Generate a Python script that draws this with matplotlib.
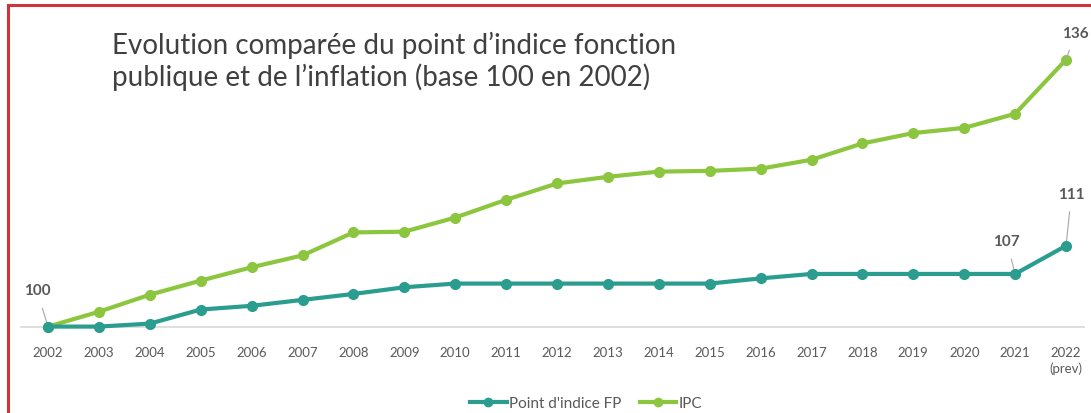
import matplotlib.pyplot as plt
from matplotlib.lines import Line2D

# données (base 100 en 2002)
annees = list(range(2002, 2023))
point_fp = [100.0, 100.0, 100.4, 102.3, 102.8, 103.6, 104.4, 105.3, 105.8, 105.8,
            105.8, 105.8, 105.8, 105.8, 106.5, 107.1, 107.1, 107.1, 107.1, 107.1, 110.9]
ipc = [100.0, 102.0, 104.3, 106.2, 108.0, 109.6, 112.7, 112.8, 114.7, 117.1,
       119.3, 120.2, 120.9, 121.0, 121.3, 122.5, 124.7, 126.1, 126.8, 128.7, 136.0]
etiquettes = [str(a) for a in annees[:-1]] + ["2022\n(prev)"]

plt.rcParams['font.family'] = ['Lato', 'DejaVu Sans']

c_fp = '#2a9d8f'
c_ipc = '#8cc63f'
gris = '#595959'

W, H = 1091, 414
fig = plt.figure(figsize=(W / 100, H / 100), dpi=100)
# axes placés en pixels: x 20..1085, y 31..335
ax = fig.add_axes([20 / W, (H - 335) / H, 1065 / W, 304 / H])
ax.set_xlim(2002 - 28 / 50.9, 2022 + 19 / 50.9)
ax.set_ylim(99, 140)

ax.axhline(100, color='#d9d9d9', lw=1.2, zorder=1)
ax.plot(annees, ipc, color=c_ipc, lw=3, marker='o', ms=7, zorder=3)
ax.plot(annees, point_fp, color=c_fp, lw=3, marker='o', ms=7, zorder=4)

for s in ax.spines.values():
    s.set_visible(False)
ax.set_yticks([])
ax.set_xticks(annees)
ax.set_xticklabels(etiquettes, color=gris, fontsize=9.5, linespacing=1.3)
ax.tick_params(axis='x', length=0, pad=9)
for lab in ax.get_xticklabels():
    lab.set_verticalalignment('top')

# étiquettes de valeurs avec lignes de rappel
lbl = dict(fontsize=11, fontweight='bold', color=gris, ha='center', va='center',
           arrowprops=dict(arrowstyle='-', color='#a6a6a6', lw=0.8, shrinkA=6, shrinkB=0))
ax.annotate('100', xy=(annees[0], ipc[0]), xytext=(-8, 26), textcoords='offset points', **lbl)
ax.annotate('136', xy=(annees[-1], ipc[-1]), xytext=(7, 19.5), textcoords='offset points', **lbl)
ax.annotate('111', xy=(annees[-1], point_fp[-1]), xytext=(4, 37.5), textcoords='offset points', **lbl)
ax.annotate('107', xy=(annees[-2], point_fp[-2]), xytext=(-6, 23.5), textcoords='offset points', **lbl)

fig.text(112 / W, 1 - 61.5 / H, "Evolution comparée du point d\u2019indice fonction\npublique et de l\u2019inflation (base 100 en 2002)",
         fontsize=20, color='#404040', ha='left', va='center', linespacing=1.2)

handles = [Line2D([], [], color=c_fp, lw=3, marker='o', ms=6),
           Line2D([], [], color=c_ipc, lw=3, marker='o', ms=6)]
fig.legend(handles, ["Point d'indice FP", 'IPC'], loc='center', bbox_to_anchor=(586 / W, 1 - 404 / H),
           ncol=2, frameon=False, fontsize=11, labelcolor=gris, handlelength=2.4, columnspacing=1.2,
           handletextpad=0.15)

# cadre rouge (haut et gauche visibles)
fig.add_artist(Line2D([8 / W, 1], [1 - 6 / H, 1 - 6 / H], color='#d0343a', lw=2.2, transform=fig.transFigure))
fig.add_artist(Line2D([8 / W, 8 / W], [0, 1 - 6 / H], color='#d0343a', lw=2.2, transform=fig.transFigure))

fig.savefig('out.png', dpi=100)
